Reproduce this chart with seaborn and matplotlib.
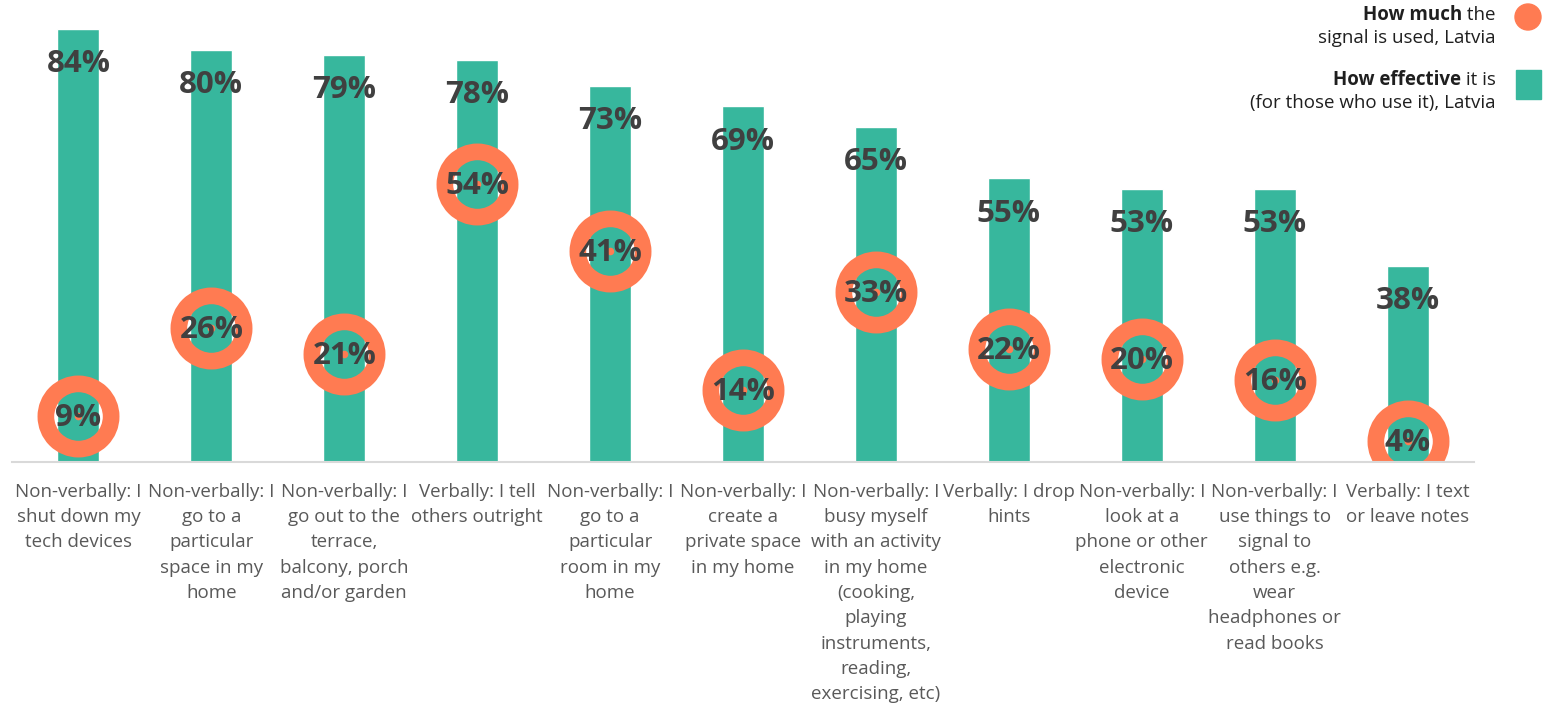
import matplotlib
matplotlib.use("Agg")
import matplotlib.pyplot as plt
from matplotlib.patches import Circle, Rectangle
from matplotlib.transforms import IdentityTransform
import seaborn as sns
import pandas as pd

# Signals, share who use them, and how effective they are
categories = [
    "Non-verbally: I\nshut down my\ntech devices",
    "Non-verbally: I\ngo to a\nparticular\nspace in my\nhome",
    "Non-verbally: I\ngo out to the\nterrace,\nbalcony, porch\nand/or garden",
    "Verbally: I tell\nothers outright",
    "Non-verbally: I\ngo to a\nparticular\nroom in my\nhome",
    "Non-verbally: I\ncreate a\nprivate space\nin my home",
    "Non-verbally: I\nbusy myself\nwith an activity\nin my home\n(cooking,\nplaying\ninstruments,\nreading,\nexercising, etc)",
    "Verbally: I drop\nhints",
    "Non-verbally: I\nlook at a\nphone or other\nelectronic\ndevice",
    "Non-verbally: I\nuse things to\nsignal to\nothers e.g.\nwear\nheadphones or\nread books",
    "Verbally: I text\nor leave notes",
]
effectiveness = [84, 80, 79, 78, 73, 69, 65, 55, 53, 53, 38]
usage = [9, 26, 21, 54, 41, 14, 33, 22, 20, 16, 4]

TEAL = "#37B79D"
ORANGE = "#FF7B52"
VALUE_COLOR = "#404040"
TICK_COLOR = "#595959"

sns.set_theme(style="white")
plt.rcParams["font.family"] = ["Open Sans", "DejaVu Sans"]

W, H = 1546, 703
fig = plt.figure(figsize=(W / 100, H / 100), dpi=100)
ax = fig.add_axes([12 / W, 241 / H, 1462 / W, 462 / H])

df = pd.DataFrame({"signal": categories, "effective": effectiveness, "used": usage})

sns.barplot(data=df, x="signal", y="effective", color=TEAL, width=0.316,
            saturation=1, errorbar=None, ax=ax, zorder=1)
sns.pointplot(data=df, x="signal", y="used", color=ORANGE, errorbar=None,
              linestyle="none", marker="o", markersize=47,
              markerfacecolor="none", markeredgewidth=12, ax=ax)

# small dot in the centre of each ring
sns.scatterplot(x=list(range(len(usage))), y=usage, color=ORANGE, s=30,
                linewidth=0, ax=ax, zorder=3, legend=False)

for i, v in enumerate(effectiveness):
    ax.annotate(f"{v}%", (i, v), xytext=(0, -25.5), textcoords="offset points",
                ha="center", va="center", fontsize=22.5, fontweight="bold",
                color=VALUE_COLOR, zorder=5)
for i, v in enumerate(usage):
    ax.annotate(f"{v}%", (i, v), xytext=(0, -1.5), textcoords="offset points",
                ha="center", va="center", fontsize=22.5, fontweight="bold",
                color=VALUE_COLOR, zorder=5)

ax.set_xlim(-0.5, len(categories) - 0.5)
ax.set_ylim(0, 89.6)
ax.set_xlabel("")
ax.set_ylabel("")
ax.set_yticks([])
ax.set_xticks(range(len(categories)))
ax.set_xticklabels(categories, fontsize=13.5, color=TICK_COLOR, linespacing=1.52)
ax.tick_params(axis="x", length=0, pad=15)
for side in ("top", "left", "right"):
    ax.spines[side].set_visible(False)
ax.spines["bottom"].set_color("#D9D9D9")
ax.spines["bottom"].set_linewidth(1.5)

# legend: right-aligned rich text with a marker to its right
renderer = fig.canvas.get_renderer()
ident = IdentityTransform()


def rich_right(x_right, y_top, parts, size=13.5, color="#1F1F1F"):
    x = x_right
    for text, weight in reversed(parts):
        t = fig.text(x, H - y_top, text, ha="right", va="center", fontsize=size,
                     fontweight=weight, color=color, transform=ident)
        x -= t.get_window_extent(renderer).width


rich_right(1496, 15, [("How much", "bold"), (" the", "normal")])
rich_right(1496, 38, [("signal is used, Latvia", "normal")])
rich_right(1496, 80, [("How effective", "bold"), (" it is", "normal")])
rich_right(1496, 103, [("(for those who use it), Latvia", "normal")])

fig.add_artist(Circle((1528, H - 17), 13, color=ORANGE, transform=ident))
fig.add_artist(Rectangle((1516, H - 99), 25, 29, color=TEAL, transform=ident))

fig.savefig("out.png", dpi=100)
